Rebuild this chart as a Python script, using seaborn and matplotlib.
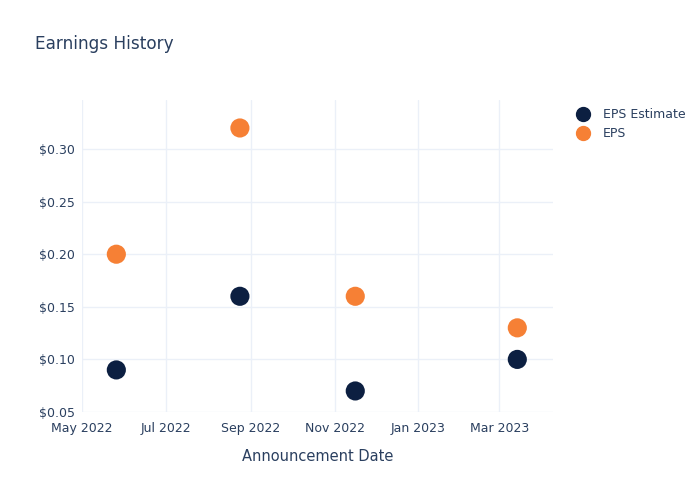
import matplotlib
matplotlib.use("Agg")
import matplotlib.pyplot as plt
import seaborn as sns
import pandas as pd

dates = ["2022-05-26", "2022-08-24", "2022-11-16", "2023-03-14"]
eps_estimate = [0.09, 0.16, 0.07, 0.10]
eps_actual = [0.20, 0.32, 0.16, 0.13]
series_names = ["EPS Estimate", "EPS"]
colors = ["#0c1f41", "#f68035"]
tick_dates = ["2022-05-01", "2022-07-01", "2022-09-01", "2022-11-01", "2023-01-01", "2023-03-01"]
tick_labels = ["May 2022", "Jul 2022", "Sep 2022", "Nov 2022", "Jan 2023", "Mar 2023"]
y_ticks = [0.05, 0.10, 0.15, 0.20, 0.25, 0.30]

df = pd.DataFrame({
    "date": pd.to_datetime(dates * 2),
    "value": eps_estimate + eps_actual,
    "series": [series_names[0]] * len(dates) + [series_names[1]] * len(dates),
})

sns.set_style("white")
plt.rcParams["font.family"] = ["DejaVu Sans"]
text_color = "#2a3f5f"

fig = plt.figure(figsize=(7, 5), dpi=100)
ax = fig.add_axes([82 / 700, 1 - 412 / 500, (553 - 82) / 700, (412 - 100) / 500])

sns.scatterplot(data=df, x="date", y="value", hue="series", hue_order=series_names,
                palette=colors, s=190, edgecolor="none", ax=ax, legend=False, zorder=3)

ax.set_xlim(pd.Timestamp("2022-05-01"), pd.Timestamp("2023-04-09"))
ax.set_ylim(0.05, 0.3466)
ax.set_xticks(pd.to_datetime(tick_dates))
ax.set_xticklabels(tick_labels)
ax.set_yticks(y_ticks)
ax.set_yticklabels([f"${v:.2f}" for v in y_ticks])
ax.grid(True, color="#ebf0f8", linewidth=1)
ax.set_axisbelow(True)
for sp in ax.spines.values():
    sp.set_visible(False)
ax.tick_params(axis="y", length=0, labelsize=9, colors=text_color, pad=5)
ax.tick_params(axis="x", length=0, labelsize=9, colors=text_color, pad=7.5)
ax.set_xlabel("Announcement Date", fontsize=10.5, color=text_color, labelpad=9.5)
ax.set_ylabel("")

fig.text(35 / 700, 1 - 44 / 500, "Earnings History", fontsize=12.2, color=text_color, va="center")

handles = [plt.Line2D([], [], marker="o", linestyle="", markersize=10, color=c) for c in colors]
fig.legend(handles, series_names, loc="upper left", bbox_to_anchor=(569 / 700, 1 - 102 / 500),
           frameon=False, fontsize=9, labelcolor=text_color, handletextpad=1.0,
           labelspacing=0.45, borderpad=0, handlelength=1.2)

fig.savefig("out.png", dpi=100)
